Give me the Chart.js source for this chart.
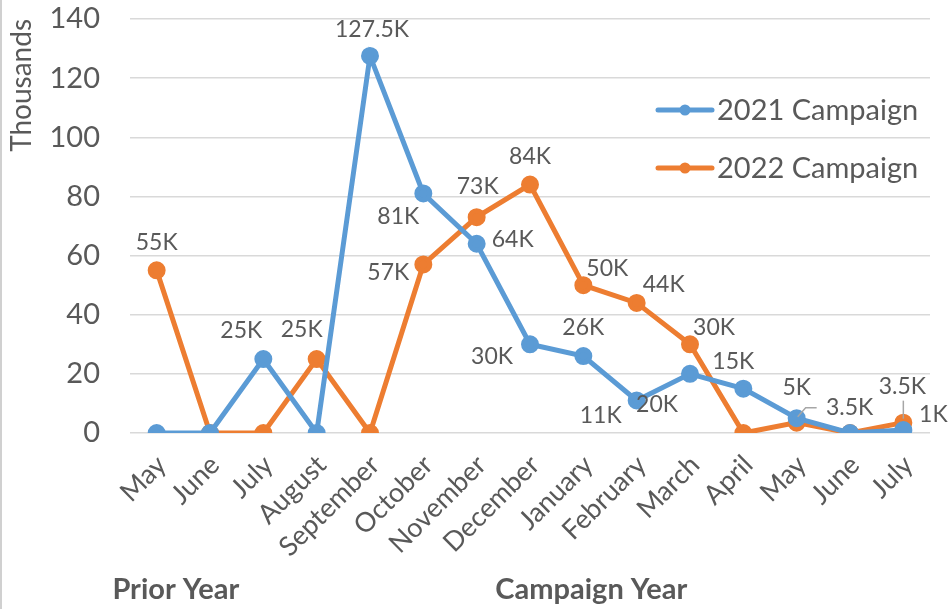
<!DOCTYPE html>
<html>
<head>
<meta charset="utf-8">
<script src="https://cdn.jsdelivr.net/npm/chart.js@4.4.1/dist/chart.umd.min.js"></script>
<style>
  html, body { margin: 0; padding: 0; background: #fff; }
  #wrap { width: 949px; height: 609px; position: relative; }
</style>
</head>
<body>
<div id="wrap"><canvas id="campaignChart" width="949" height="609"></canvas></div>
<script>
// Chart data (values in thousands)
const months = ['May', 'June', 'July', 'August', 'September', 'October', 'November', 'December',
                'January', 'February', 'March', 'April', 'May', 'June', 'July'];
const campaign2021 = [0, 0, 25, 0, 127.5, 81, 64, 30, 26, 11, 20, 15, 5, 0, 1];
const campaign2022 = [55, 0, 0, 25, 0, 57, 73, 84, 50, 44, 30, 0, 3.5, 0, 3.5];
const labels2021 = [null, null, '25K', null, '127.5K', '81K', '64K', '30K', '26K', '11K', '20K', '15K', '5K', null, '1K'];
const labels2022 = ['55K', null, null, '25K', null, '57K', '73K', '84K', '50K', '44K', '30K', null, '3.5K', null, '3.5K'];
const yTicks = [0, 20, 40, 60, 80, 100, 120, 140];
const groupNames = ['Prior Year', 'Campaign Year'];

const BLUE = '#5B9BD5';
const ORANGE = '#ED7D31';
const TEXT = '#595959';
const FONT = 'Lato, "Open Sans", sans-serif';

// label placement relative to the point [dx, dy, leader]
const offsets2021 = [null, null, [-22, -28], null, [2, -26], [-25, 23], [36, -4], [-38, 12],
                     [0, -29], [-36, 15], [-33, 31], [-10, -27], [0, -31], null, [30, -15]];
const offsets2022 = [[0, -28], null, null, [-15, -29], null, [-35, 8], [1, -31], [0, -28],
                     [24, -17], [27, -18], [24, -17], null, [53, -15, 'elbow'], null, [-1, -36, 'up']];

// draws the K value labels next to each point
const dataLabels = {
    id: 'dataLabels',
    afterDatasetsDraw(chart) {
        const ctx = chart.ctx;
        ctx.save();
        ctx.font = '23px ' + FONT;
        ctx.fillStyle = TEXT;
        ctx.textAlign = 'center';
        ctx.textBaseline = 'middle';
        chart.data.datasets.forEach((ds, di) => {
            const meta = chart.getDatasetMeta(di);
            ds.pointLabels.forEach((txt, i) => {
                const off = ds.labelOffsets[i];
                if (!txt || !off) return;
                const p = meta.data[i];
                const lx = p.x + off[0], ly = p.y + off[1];
                if (off[2]) {
                    ctx.strokeStyle = '#a6a6a6';
                    ctx.lineWidth = 1.5;
                    ctx.beginPath();
                    if (off[2] === 'elbow') {
                        ctx.moveTo(p.x + 1, p.y - 6);
                        ctx.lineTo(p.x + 9, p.y - 15);
                        ctx.lineTo(p.x + 20, p.y - 15);
                    } else {
                        ctx.moveTo(p.x, p.y - 4);
                        ctx.lineTo(p.x, p.y - 22);
                    }
                    ctx.stroke();
                }
                ctx.fillText(txt, lx, ly);
            });
        });
        ctx.restore();
    }
};

// legend drawn inside the plot area, group captions under the axis, chart frame edge
const extras = {
    id: 'extras',
    afterDraw(chart) {
        const ctx = chart.ctx;
        const area = chart.chartArea;
        ctx.save();
        ctx.fillStyle = '#d0d0d0';
        ctx.fillRect(0, 0, 2, chart.height);
        // legend
        ctx.font = '29px ' + FONT;
        ctx.textBaseline = 'middle';
        ctx.textAlign = 'left';
        chart.data.datasets.forEach((ds, i) => {
            const y = 110 + i * 58;
            const x0 = area.right - 272;
            ctx.strokeStyle = ds.borderColor;
            ctx.lineWidth = 5;
            ctx.lineCap = 'round';
            ctx.beginPath();
            ctx.moveTo(x0, y);
            ctx.lineTo(x0 + 54, y);
            ctx.stroke();
            ctx.fillStyle = ds.borderColor;
            ctx.beginPath();
            ctx.arc(x0 + 27, y, 5.5, 0, Math.PI * 2);
            ctx.fill();
            ctx.fillStyle = TEXT;
            ctx.fillText(ds.label, x0 + 59, y + 1);
        });
        // group captions
        const xs = chart.scales.x;
        ctx.font = 'bold 29px ' + FONT;
        ctx.textAlign = 'center';
        ctx.fillStyle = TEXT;
        const centers = [0.36, 8.15];
        groupNames.forEach((g, i) => {
            const x = xs.getPixelForValue(centers[i]);
            ctx.fillText(g, x, 590);
        });
        ctx.restore();
    }
};

const ctx = document.getElementById('campaignChart').getContext('2d');
const chart = new Chart(ctx, {
    type: 'line',
    data: {
        labels: months,
        datasets: [
            {
                label: '2021 Campaign',
                data: campaign2021,
                pointLabels: labels2021,
                labelOffsets: offsets2021,
                borderColor: BLUE,
                backgroundColor: BLUE,
                borderWidth: 5,
                pointRadius: 6.5,
                pointHoverRadius: 6.5,
                tension: 0
            },
            {
                label: '2022 Campaign',
                data: campaign2022,
                pointLabels: labels2022,
                labelOffsets: offsets2022,
                borderColor: ORANGE,
                backgroundColor: ORANGE,
                borderWidth: 5,
                pointRadius: 6.5,
                pointHoverRadius: 6.5,
                tension: 0
            }
        ]
    },
    options: {
        responsive: false,
        animation: false,
        events: [],
        layout: { padding: { top: 19, right: 19, left: 0, bottom: 0 } },
        plugins: {
            legend: { display: false },
            tooltip: { enabled: false }
        },
        scales: {
            x: {
                offset: true,
                grid: { display: false },
                border: { display: false },
                ticks: {
                    color: TEXT,
                    font: { family: FONT, size: 27 },
                    minRotation: 45,
                    maxRotation: 45,
                    autoSkip: false,
                    padding: 8,
                    labelOffset: 5
                },
                afterFit(scale) { scale.height = 176; }
            },
            y: {
                min: 0,
                max: 140,
                afterBuildTicks(scale) { scale.ticks = yTicks.map(v => ({ value: v })); },
                // invisible tick marks push the labels away from the plot
                grid: { color: '#d9d9d9', lineWidth: 1.5, drawTicks: true, tickLength: 30, tickColor: 'rgba(0,0,0,0)' },
                border: { display: false },
                ticks: {
                    color: TEXT,
                    font: { family: FONT, size: 29 },
                    padding: 0
                },
                title: {
                    display: true,
                    text: 'Thousands',
                    align: 'end',
                    color: TEXT,
                    font: { family: FONT, size: 28 },
                    padding: { top: 5, bottom: 0 }
                },
                afterFit(scale) { scale.width = 130; }
            }
        }
    },
    plugins: [dataLabels, extras]
});
</script>
</body>
</html>
